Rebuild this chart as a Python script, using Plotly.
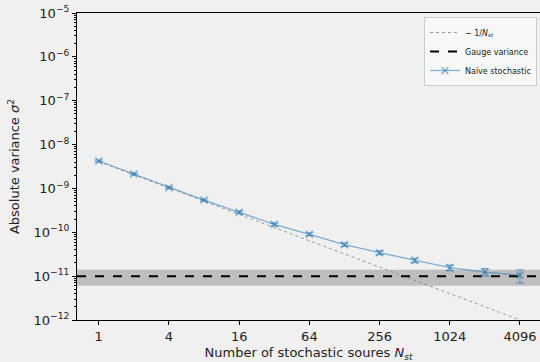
import numpy as np
import plotly.graph_objects as go

# Number of stochastic sources (powers of two)
n_sources = [1, 2, 4, 8, 16, 32, 64, 128, 256, 512, 1024, 2048, 4096]

# Naive stochastic estimate of the absolute variance and its uncertainty
naive_var = [4.22e-9, 2.13e-9, 1.04e-9, 5.44e-10, 2.86e-10, 1.52e-10, 9.0e-11,
             5.21e-11, 3.43e-11, 2.30e-11, 1.56e-11, 1.24e-11, 1.05e-11]
naive_err = [2.0e-10, 1.0e-10, 5.5e-11, 3.0e-11, 1.8e-11, 1.0e-11, 6.5e-12,
             4.5e-12, 3.5e-12, 2.6e-12, 2.2e-12, 2.4e-12, 3.5e-12]

# Gauge variance and its uncertainty band
gauge_var = 1.0e-11
gauge_err = 0.4e-11

# Leading 1/N behaviour
ref_coeff = 4.1e-9

x_tick_vals = [1, 4, 16, 64, 256, 1024, 4096]
x_tick_text = ["1", "4", "16", "64", "256", "1024", "4096"]
y_exponents = [-12, -11, -10, -9, -8, -7, -6, -5]

x_lo, x_hi = 2 ** -0.62, 2 ** 12.57

font_family = "DejaVu Sans"
blue = "rgba(31,119,180,0.55)"
blue_marker = "rgba(31,119,180,0.6)"

fig = go.Figure()

ref_x = np.array([n_sources[0], n_sources[-1]], dtype=float)
fig.add_trace(go.Scatter(
    x=ref_x, y=ref_coeff / ref_x, mode="lines",
    line=dict(color="#808080", width=0.8, dash="dot"),
    name="∼ 1/<i>N<sub>st</sub></i>",
))

fig.add_trace(go.Scatter(
    x=[x_lo, x_hi], y=[gauge_var, gauge_var], mode="lines",
    line=dict(color="black", width=2, dash="dash"),
    name="Gauge variance",
))

fig.add_trace(go.Scatter(
    x=n_sources, y=naive_var, mode="lines+markers",
    line=dict(color=blue, width=1.3),
    marker=dict(symbol="x-thin-open", size=7, line=dict(color=blue_marker, width=1.5)),
    error_y=dict(type="data", array=naive_err, visible=True,
                 color=blue_marker, thickness=1.2, width=4),
    name="Naive stochastic",
))

# Shaded uncertainty band of the gauge variance
fig.add_shape(type="rect", xref="paper", yref="y", x0=0, x1=1,
              y0=gauge_var - gauge_err, y1=gauge_var + gauge_err,
              fillcolor="rgba(128,128,128,0.45)", line=dict(width=0), layer="below")

y_minor = [k * 10.0 ** e for e in y_exponents[:-1] for k in range(2, 10)]

fig.update_layout(
    width=540, height=362,
    margin=dict(l=77, r=0, t=13, b=42),
    paper_bgcolor="#f0f0f0", plot_bgcolor="#f0f0f0",
    font=dict(family=font_family, size=13, color="#222"),
    showlegend=True,
    legend=dict(
        x=0.9935, y=0.987, xanchor="right", yanchor="top",
        bgcolor="rgba(248,248,248,0.9)", bordercolor="#cccccc", borderwidth=1,
        font=dict(size=8, color="#222"), tracegroupgap=0, itemwidth=30,
    ),
    xaxis=dict(
        type="log", range=[np.log10(x_lo), np.log10(x_hi)],
        tickmode="array", tickvals=x_tick_vals, ticktext=x_tick_text,
        ticks="outside", ticklen=4, tickcolor="black",
        showline=True, linecolor="black", linewidth=1.2, mirror=True,
        showgrid=False, zeroline=False,
        title=dict(text="Number of stochastic soures <i>N<sub>st</sub></i>",
                   standoff=6, font=dict(size=13)),
    ),
    yaxis=dict(
        type="log", range=[-12, -5],
        tickmode="array", tickvals=[10.0 ** e for e in y_exponents],
        ticktext=["10<sup>−%d</sup>" % -e for e in y_exponents],
        ticks="outside", ticklen=4, tickcolor="black",
        minor=dict(tickmode="array", tickvals=y_minor, ticks="outside",
                   ticklen=2, tickcolor="black", showgrid=False),
        showline=True, linecolor="black", linewidth=1.2,
        showgrid=False, zeroline=False,
        title=dict(text="Absolute variance <i>σ</i><sup>2</sup>",
                   standoff=10, font=dict(size=13)),
    ),
)

fig.write_html("out.html")
